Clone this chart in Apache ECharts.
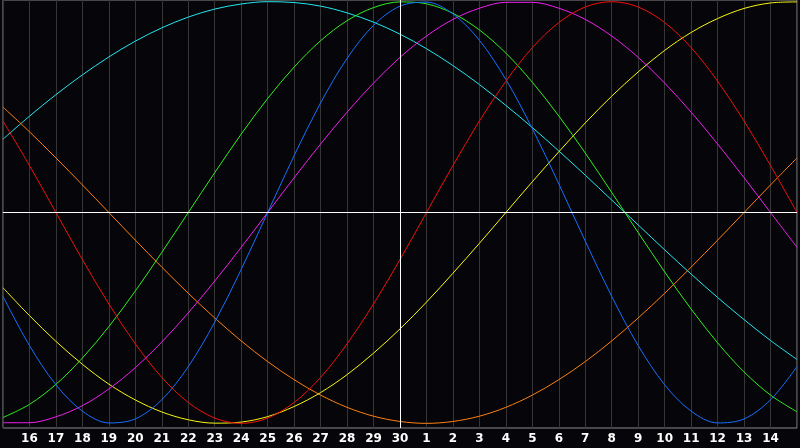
<!DOCTYPE html>
<html>
<head>
<meta charset="utf-8">
<script src="https://cdn.jsdelivr.net/npm/echarts@6/dist/echarts.min.js"></script>
<style>
    html,body{
        margin:0;
        padding:0;
        background:#060509;
    }
    #chart{
        width:800px;
        height:448px;
    }
</style>
</head>
<body>
<div id="chart"></div>
<script>
// x = day index 0..30, labels shown at 1..29
var dayLabels = ['16','17','18','19','20','21','22','23','24','25','26','27','28','29','30',
                 '1','2','3','4','5','6','7','8','9','10','11','12','13','14'];

// values, one per day (k = 0..30), range -100..100
var red     = [43.4, 22.3, 0, -22.3, -43.4, -62.3, -78.2, -90.1, -97.5, -100, -97.5, -90.1, -78.2, -62.3, -43.4, -22.3, 0, 22.3, 43.4, 62.3, 78.2, 90.1, 97.5, 100, 97.5, 90.1, 78.2, 62.3, 43.4, 22.3, 0];
var blue    = [-39.8, -63.1, -81.7, -94.2, -99.8, -97.9, -88.8, -73.1, -52.0, -27.0, 0, 27.0, 52.0, 73.1, 88.8, 97.9, 99.8, 94.2, 81.7, 63.1, 39.8, 13.6, -13.6, -39.8, -63.1, -81.7, -94.2, -99.8, -97.9, -88.8, -73.1];
var green   = [-97.2, -91.0, -81.5, -69.0, -54.1, -37.2, -18.9, 0, 18.9, 37.2, 54.1, 69.0, 81.5, 91.0, 97.2, 99.9, 99.0, 94.5, 86.6, 75.6, 61.8, 45.8, 28.2, 9.5, -9.5, -28.2, -45.8, -61.8, -75.6, -86.6, -94.5];
var magenta = [-99.7, -99.7, -96.9, -91.6, -83.7, -73.6, -61.4, -47.6, -32.5, -16.5, 0, 16.5, 32.5, 47.6, 61.4, 73.6, 83.7, 91.6, 96.9, 99.7, 99.7, 96.9, 91.6, 83.7, 73.6, 61.4, 47.6, 32.5, 16.5, 0, -16.5];
var cyan    = [34.8, 45.7, 55.9, 65.3, 73.8, 81.3, 87.6, 92.7, 96.5, 98.9, 100, 99.6, 97.9, 94.7, 90.3, 84.6, 77.7, 69.7, 60.7, 50.8, 40.3, 29.2, 17.7, 5.9, -5.9, -17.7, -29.2, -40.3, -50.8, -60.7, -69.7];
var yellow  = [-35.7, -48.9, -61.1, -72.0, -81.4, -88.9, -94.6, -98.3, -99.9, -99.4, -96.8, -92.0, -85.4, -76.9, -66.7, -55.2, -42.5, -28.8, -14.6, 0, 14.6, 28.8, 42.5, 55.2, 66.7, 76.9, 85.4, 92.0, 96.8, 99.4, 99.9];
var orange  = [50.0, 38.3, 25.9, 13.1, 0, -13.1, -25.9, -38.3, -50.0, -60.9, -70.7, -79.3, -86.6, -92.4, -96.6, -99.1, -100, -99.1, -96.6, -92.4, -86.6, -79.3, -70.7, -60.9, -50.0, -38.3, -25.9, -13.1, 0, 13.1, 25.9];

(function(){
    var myChart = echarts.init(document.getElementById('chart'));

    function pts(arr){
        var out = [];
        for (var i = 0; i < arr.length; i++) {
            out.push([i, arr[i]]);
        }
        return out;
    }
    function curve(arr, color){
        return {
            type:'line',
            data:pts(arr),
            smooth:0.33,
            smoothConstraint:false,
            showSymbol:false,
            lineStyle:{color:color, width:1},
            itemStyle:{color:color},
            silent:true
        };
    }

    var series = [
        curve(cyan, '#22e8f0'),
        curve(orange, '#ff8010'),
        curve(yellow, '#f8f810'),
        curve(magenta, '#f020f0'),
        curve(green, '#30f020'),
        curve(blue, '#1870ff'),
        curve(red, '#f01010')
    ];
    // centre cross
    series.push({
        type:'line',
        data:[],
        silent:true,
        markLine:{
            symbol:'none',
            silent:true,
            label:{show:false},
            lineStyle:{color:'#ffffff', width:1, type:'solid'},
            data:[{xAxis:15}, {yAxis:0}]
        }
    });

    myChart.setOption({
        backgroundColor:'#060509',
        animation:false,
        grid:{
            left:0, right:0, top:0, bottom:20,
            show:true,
            borderColor:'#8a8a8a',
            borderWidth:1,
            backgroundColor:'transparent'
        },
        xAxis:{
            type:'value',
            min:0, max:30, interval:1,
            axisLine:{show:true, lineStyle:{color:'#9a9a9a', width:1}},
            axisTick:{show:false},
            splitLine:{show:true, lineStyle:{color:'#363636', width:1}},
            axisLabel:{
                color:'#ffffff',
                fontFamily:'DejaVu Sans',
                fontWeight:'bold',
                fontSize:12,
                margin:5,
                formatter:function(v){
                    return (v >= 1 && v <= dayLabels.length) ? dayLabels[v-1] : '';
                }
            }
        },
        yAxis:{
            type:'value',
            min:-102.2, max:100.8,
            show:false,
            splitLine:{show:false}
        },
        series:series
    });
})();
</script>
</body>
</html>
